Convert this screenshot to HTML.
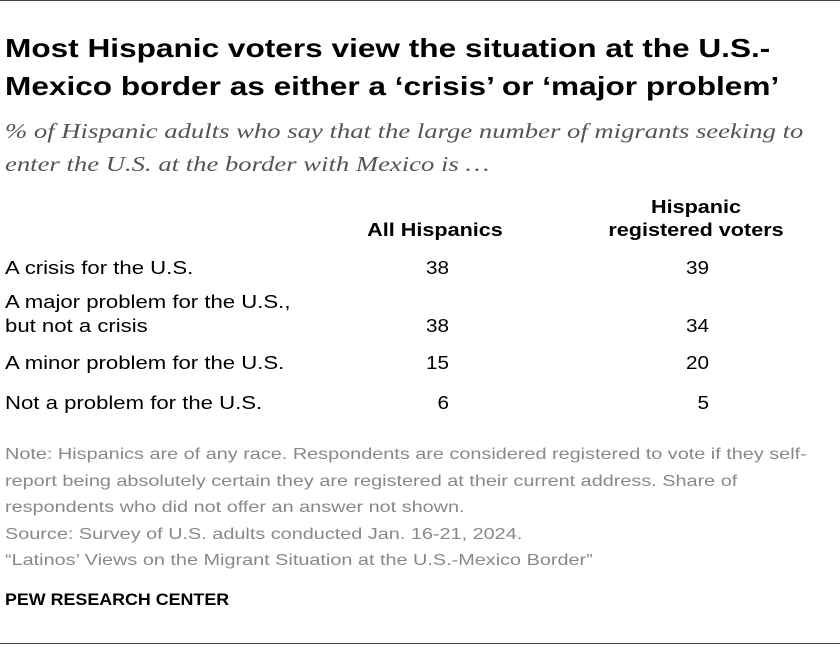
<!DOCTYPE html>
<html><head><meta charset="utf-8"><style>
body{margin:0;width:840px;height:652px;background:#fff;font-family:"Liberation Sans",sans-serif;position:relative;overflow:hidden;color:#000}
.a{position:absolute;white-space:nowrap}
.t{font-weight:bold;font-size:26px;left:5px;line-height:38px;transform:scaleX(1.215);transform-origin:0 0}
.s{font-family:"Liberation Serif",serif;font-style:italic;font-size:21px;color:#555;left:5px;line-height:33px;transform:scaleX(1.27);transform-origin:0 0}
.h{font-weight:bold;font-size:18px;text-align:center;line-height:23px;transform:scaleX(1.2)}
.r{font-size:18px;line-height:24px;transform:scaleX(1.23);transform-origin:0 0}
.n{font-size:18px;line-height:24px;text-align:right;width:60px;transform:scaleX(1.15);transform-origin:100% 0}
.note{font-size:16px;color:#888;left:5px;line-height:26.5px;transform:scaleX(1.24);transform-origin:0 0}
</style></head><body>
<div class="a" style="left:0;top:0;width:840px;height:1px;background:#444"></div>
<div class="a t" style="top:29px">Most Hispanic voters view the situation at the U.S.-<br>Mexico border as either a ‘crisis’ or ‘major problem’</div>
<div class="a s" style="top:115px">% of Hispanic adults who say that the large number of migrants seeking to<br>enter the U.S. at the border with Mexico is …</div>
<div class="a h" style="left:335px;width:200px;top:219px">All Hispanics</div>
<div class="a h" style="left:596px;width:200px;top:196px">Hispanic<br>registered voters</div>
<div id="rows"></div>
<div class="a note" style="top:442px">Note: Hispanics are of any race. Respondents are considered registered to vote if they self-<br>report being absolutely certain they are registered at their current address. Share of<br>respondents who did not offer an answer not shown.<br>Source: Survey of U.S. adults conducted Jan. 16-21, 2024.<br>“Latinos’ Views on the Migrant Situation at the U.S.-Mexico Border”</div>
<div class="a" style="left:5px;top:590px;font-weight:bold;font-size:17px;transform:scaleX(1.05);transform-origin:0 0">PEW RESEARCH CENTER</div>
<div class="a" style="left:0;top:643px;width:840px;height:1px;background:#444"></div>
<script>
const categories=["A crisis for the U.S.","A major problem for the U.S.,<br>but not a crisis","A minor problem for the U.S.","Not a problem for the U.S."];
const allHispanics=[38,38,15,6];
const voters=[39,34,20,5];
const rowTops=[256,290,351,391];
const c=document.getElementById('rows');
categories.forEach((cat,i)=>{
  const two=cat.includes('<br>');
  const y=rowTops[i];
  const l=document.createElement('div');l.className='a r';l.style.left='5px';l.style.top=y+'px';l.innerHTML=cat;
  
  
  c.appendChild(l);
  const ny=two?y+24:y;
  const a=document.createElement('div');a.className='a n';a.style.left='389px';a.style.top=ny+'px';a.textContent=allHispanics[i];
  
  
  c.appendChild(a);
  const b=document.createElement('div');b.className='a n';b.style.left='649px';b.style.top=ny+'px';b.textContent=voters[i];
  
  
  c.appendChild(b);
});
</script>
</body></html>
